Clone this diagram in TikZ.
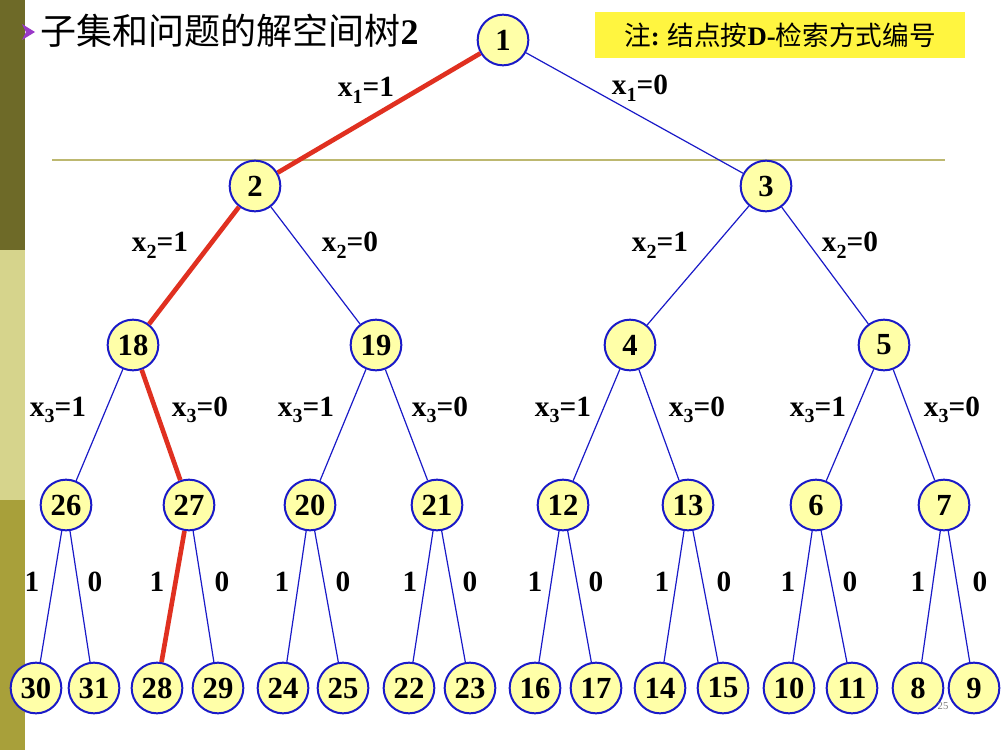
\documentclass[tikz,border=0pt]{standalone}
\usepackage{fontspec}
\setmainfont{Liberation Serif}
\newfontfamily\cjk{Noto Sans CJK SC}
\definecolor{nodey}{HTML}{FFFFA8}
\definecolor{nblue}{HTML}{1A1AC8}
\definecolor{pathred}{HTML}{E03020}
\definecolor{olive}{HTML}{BDB870}
\definecolor{barA}{HTML}{6E6A28}
\definecolor{barB}{HTML}{D6D48C}
\definecolor{barC}{HTML}{A8A03A}
\definecolor{bullet}{HTML}{9A38C8}
\newcommand{\sbs}[1]{\raisebox{-5pt}{\fontsize{15}{15}\selectfont #1}}
\begin{document}
\begin{tikzpicture}[x=0.75pt,y=-0.75pt,
  tn/.style={circle,draw=nblue,line width=1.5pt,fill=nodey,minimum size=38pt,inner sep=0pt,font=\fontsize{23}{23}\selectfont\bfseries},
  edge/.style={nblue,line width=0.9pt},
  red/.style={pathred,line width=3.5pt},
  lab/.style={font=\fontsize{22}{22}\selectfont\bfseries}]
\useasboundingbox (0,0) rectangle (1004,750);
\fill[white] (0,0) rectangle (1004,750);
\fill[barA] (0,0) rectangle (25,250);
\fill[barB] (0,250) rectangle (25,500);
\fill[barC] (0,500) rectangle (25,750);
\fill[bullet] (22,24) -- (35,32) -- (22,40) -- (26,32) -- cycle;
\node[anchor=west,font=\cjk\fontsize{27}{27}\selectfont] (title) at (36,31) {子集和问题的解空间树\textbf{\rmfamily 2}};
\node[fill=yellow!75!white,minimum width=277pt,minimum height=34pt,anchor=north west,font=\cjk\fontsize{20}{20}\selectfont] (note) at (595,12) {注\textbf{\rmfamily :} 结点按\textbf{\rmfamily D-}检索方式编号};
\draw[olive,line width=1.5pt] (52,160) -- (945,160);
\node[tn] (n1) at (503,40) {1};
\node[tn] (n2) at (255,186) {2};
\node[tn] (n3) at (766,186) {3};
\node[tn] (n18) at (133,345) {18};
\node[tn] (n19) at (376,345) {19};
\node[tn] (n4) at (630,345) {4};
\node[tn] (n5) at (884,345) {5};
\foreach \n/\x in {26/66,27/189,20/310,21/437,12/563,13/688,6/816,7/944}
  \node[tn] (n\n) at (\x,505) {\n};
\foreach \n/\x in {30/36,31/94,28/157,29/218,24/283,25/343,22/409,23/470,16/535,17/596,14/660,15/723,10/789,11/852,8/918,9/974}
  \node[tn] (n\n) at (\x,688) {\n};
\foreach \a/\b in {1/3,2/19,3/4,3/5,18/26,19/20,19/21,4/12,4/13,5/6,5/7,
  26/30,26/31,27/29,20/24,20/25,21/22,21/23,12/16,12/17,13/14,13/15,6/10,6/11,7/8,7/9}
  \draw[edge] (n\a) -- (n\b);
\foreach \a/\b in {1/2,2/18,18/27,27/28}
  \draw[red] (n\a) -- (n\b);
\node[lab] (l1a) at (366,90) {x\sbs{1}=1};
\node[lab] (l1b) at (640,88) {x\sbs{1}=0};
\foreach \x/\v [count=\i] in {160/1,350/0,660/1,850/0}
  \node[lab] (l2\i) at (\x,245) {x\sbs{2}=\v};
\foreach \x/\v [count=\i] in {58/1,200/0,306/1,440/0,563/1,697/0,818/1,952/0}
  \node[lab] (l3\i) at (\x,410) {x\sbs{3}=\v};
\foreach \x/\v [count=\i] in {32/1,95/0,157/1,222/0,282/1,343/0,410/1,470/0,535/1,596/0,662/1,724/0,788/1,850/0,918/1,980/0}
  \node[lab] (l4\i) at (\x,582) {\v};
\node[font=\fontsize{8}{8}\selectfont,text=gray] (pg) at (943,706) {25};
\end{tikzpicture}
\end{document}
